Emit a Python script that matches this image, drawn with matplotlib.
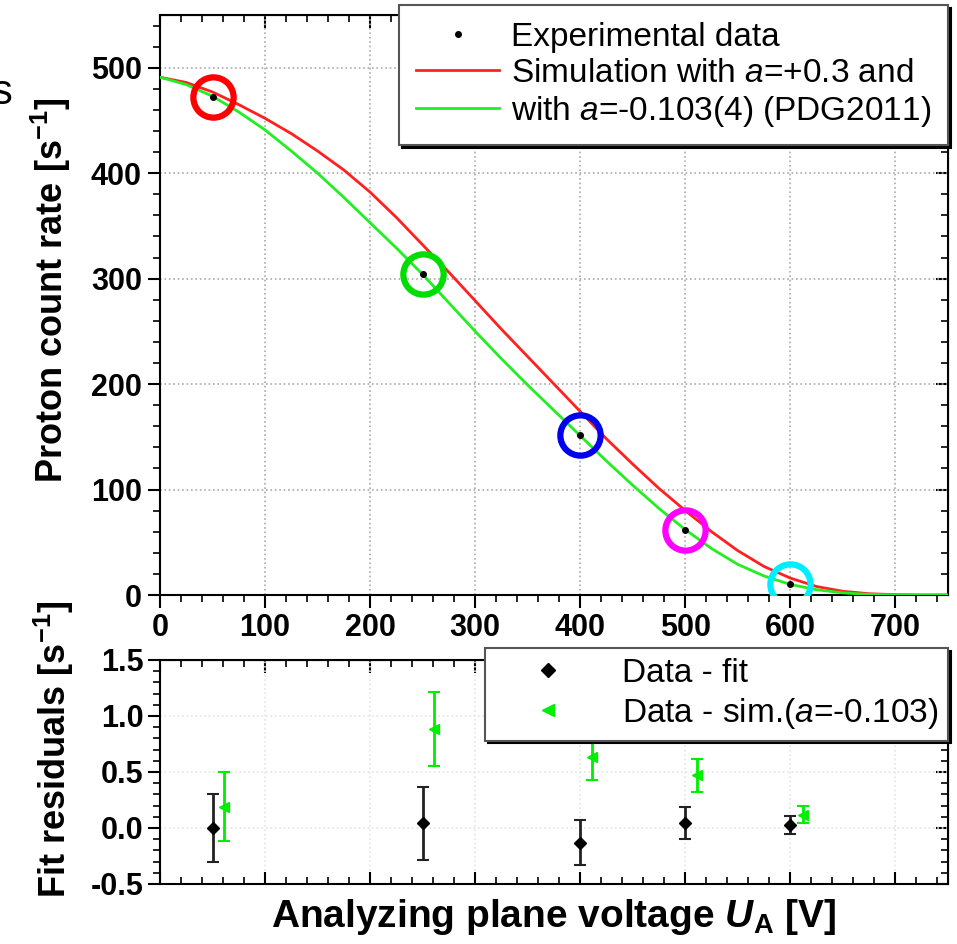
import numpy as np
import matplotlib
matplotlib.use('Agg')
import matplotlib.pyplot as plt
from matplotlib.ticker import MultipleLocator, NullFormatter
from matplotlib.lines import Line2D

plt.rcParams['font.family'] = ['Liberation Sans', 'DejaVu Sans']
plt.rcParams['mathtext.fontset'] = 'custom'
plt.rcParams['mathtext.rm'] = 'Liberation Sans'
plt.rcParams['mathtext.it'] = 'Liberation Sans:italic'
plt.rcParams['mathtext.bf'] = 'Liberation Sans:bold'
plt.rcParams['mathtext.bfit'] = 'Liberation Sans:italic:bold'

# experimental points (top panel)
u_data = [50, 250, 400, 500, 600]
rate_data = [472, 304, 152, 62, 10]
ring_colors = ['#ff0000', '#00dd00', '#0000ee', '#ff00ff', '#00eeff']

# simulation curves
u_sim = [0, 25, 50, 75, 100, 125, 150, 175, 200, 225, 250, 275, 300, 325, 350,
         375, 400, 425, 450, 475, 500, 525, 550, 575, 600, 625, 650, 675, 700, 725, 750]
rate_sim_pos = [491, 486, 477, 465, 452, 437.5, 421, 403, 382, 358, 332, 306, 279, 252, 226,
                200, 174, 148, 124, 101, 80, 60, 42, 27, 16, 8, 3.5, 1.2, 0.3, 0, 0]
rate_sim_neg = [491, 484, 473, 458, 441, 421, 400, 377, 353, 329, 304, 277, 250, 224, 199,
                175, 151, 127, 104, 82, 62, 44, 29, 18, 10, 5, 2, 0.6, 0.1, 0, 0]

# residuals (bottom panel)
u_res_fit = [50, 250, 400, 500, 600]
res_fit = [0.0, 0.04, -0.13, 0.045, 0.03]
err_fit = [0.30, 0.33, 0.205, 0.14, 0.08]
u_res_sim = [61, 261, 411, 511, 612]
res_sim = [0.19, 0.88, 0.63, 0.47, 0.12]
err_sim = [0.31, 0.33, 0.20, 0.15, 0.08]

fig = plt.figure(figsize=(9.57, 9.44), dpi=100)
ax1 = fig.add_axes([0.1672, 0.3697, 0.8234, 0.6144])
ax2 = fig.add_axes([0.1672, 0.0636, 0.8234, 0.2373])

# top panel
ax1.plot(u_sim, rate_sim_pos, color='#ff2020', lw=2, label='Simulation with $a$=+0.3 and', zorder=3)
ax1.plot(u_sim, rate_sim_neg, color='#22ee22', lw=2, label='with $a$=-0.103(4) (PDG2011)', zorder=3)
ax1.plot(u_data, rate_data, 'o', color='black', ms=4, ls='none', label='Experimental data', zorder=5)
for u, r, c in zip(u_data, rate_data, ring_colors):
    ax1.plot(u, r, 'o', ms=29, mfc='none', mec=c, mew=4.5, zorder=4)

ax1.set_xlim(0, 750)
ax1.set_ylim(0, 550)
ax1.xaxis.set_major_locator(MultipleLocator(100))
ax1.xaxis.set_minor_locator(MultipleLocator(20))
ax1.yaxis.set_major_locator(MultipleLocator(100))
ax1.yaxis.set_minor_locator(MultipleLocator(20))
ax1.grid(True, which='major', ls=':', color='#aaaaaa', lw=1.2)
ax1.tick_params(which='major', direction='out', length=9, width=1.5, labelsize=22, pad=4)
ax1.tick_params(which='minor', direction='out', length=5, width=1.2)
for lab in ax1.get_xticklabels() + ax1.get_yticklabels():
    lab.set_fontweight('bold')
ax1.set_ylabel('Proton count rate [s$^{\\mathbf{-1}}$]', fontsize=26, fontweight='bold')
ax1.yaxis.set_label_coords(-0.11, 0.525)
for sp in ax1.spines.values():
    sp.set_linewidth(1.5)

sec_r = ax1.secondary_yaxis('right')
sec_r.yaxis.set_major_locator(MultipleLocator(100))
sec_r.yaxis.set_minor_locator(MultipleLocator(20))
sec_r.tick_params(which='major', direction='in', length=9, width=1.5, labelright=False)
sec_r.tick_params(which='minor', direction='in', length=5, width=1.2)
sec_t = ax1.secondary_xaxis('top')
sec_t.xaxis.set_major_locator(MultipleLocator(100))
sec_t.xaxis.set_minor_locator(MultipleLocator(20))
sec_t.tick_params(which='major', direction='in', length=9, width=1.5, labeltop=False)
sec_t.tick_params(which='minor', direction='in', length=5, width=1.2)

h, l = ax1.get_legend_handles_labels()
leg1 = ax1.legend([h[2], h[0], h[1]], [l[2], l[0], l[1]], loc='upper right',
                  bbox_to_anchor=(1.0, 1.017), borderaxespad=0, fontsize=24,
                  frameon=True, fancybox=False, shadow={'color': 'black', 'alpha': 1},
                  edgecolor='#555555', handlelength=2.5, labelspacing=0.15,
                  borderpad=0.5, handletextpad=0.35)
leg1.get_frame().set_linewidth(1.5)
leg1.set_zorder(10)

# bottom panel
ax2.errorbar(u_res_fit, res_fit, yerr=err_fit, fmt='D', color='black', ecolor='#222222',
             ms=6, elinewidth=2, capsize=4, capthick=1.5, zorder=4)
ax2.errorbar(u_res_sim, res_sim, yerr=err_sim, fmt='<', color='#00ee00', ecolor='#00ee00',
             ms=7, elinewidth=2, capsize=4, capthick=1.5, zorder=4)
ax2.set_xlim(0, 750)
ax2.set_ylim(-0.5, 1.5)
ax2.xaxis.set_major_locator(MultipleLocator(100))
ax2.xaxis.set_minor_locator(MultipleLocator(20))
ax2.xaxis.set_major_formatter(NullFormatter())
ax2.yaxis.set_major_locator(MultipleLocator(0.5))
ax2.yaxis.set_minor_locator(MultipleLocator(0.1))
ax2.yaxis.set_major_formatter(plt.FuncFormatter(lambda v, p: f'{v:.1f}'))
ax2.grid(True, which='major', ls=':', color='#e4e4e4', lw=1.2)
ax2.tick_params(axis='y', which='major', direction='out', length=9, width=1.5, labelsize=22, pad=3)
ax2.tick_params(axis='y', which='minor', direction='out', length=5, width=1.2)
ax2.tick_params(axis='x', which='major', direction='in', length=9, width=1.5)
ax2.tick_params(axis='x', which='minor', direction='in', length=5, width=1.2)
for lab in ax2.get_yticklabels():
    lab.set_fontweight('bold')
for sp in ax2.spines.values():
    sp.set_linewidth(1.5)
ax2.set_ylabel('Fit residuals [s$^{\\mathbf{-1}}$]', fontsize=26, fontweight='bold')
ax2.yaxis.set_label_coords(-0.106, 0.6)
ax2.set_xlabel('Analyzing plane voltage $\\mathbfit{U}_{\\mathbf{A}}$ [V]', fontsize=28,
               fontweight='bold', labelpad=6)

sec_r2 = ax2.secondary_yaxis('right')
sec_r2.yaxis.set_major_locator(MultipleLocator(0.5))
sec_r2.yaxis.set_minor_locator(MultipleLocator(0.1))
sec_r2.tick_params(which='major', direction='in', length=9, width=1.5, labelright=False)
sec_r2.tick_params(which='minor', direction='in', length=5, width=1.2)
sec_t2 = ax2.secondary_xaxis('top')
sec_t2.xaxis.set_major_locator(MultipleLocator(100))
sec_t2.xaxis.set_minor_locator(MultipleLocator(20))
sec_t2.tick_params(which='major', direction='in', length=9, width=1.5, labeltop=False)
sec_t2.tick_params(which='minor', direction='in', length=5, width=1.2)

res_handles = [Line2D([], [], marker='D', color='black', ls='none', ms=7),
               Line2D([], [], marker='<', color='#00ee00', ls='none', ms=8)]
res_labels = ['Data - fit', 'Data - sim.($a$=-0.103)']
leg2 = ax2.legend(res_handles, res_labels, loc='upper right', bbox_to_anchor=(1.0, 1.054),
                  borderaxespad=0, fontsize=24, frameon=True, fancybox=False,
                  shadow={'color': 'black', 'alpha': 1}, edgecolor='#555555',
                  handlelength=3.2, labelspacing=0.2, borderpad=0.3, handletextpad=0.6)
leg2.get_frame().set_linewidth(1.5)
leg2.set_zorder(10)

# cropped letter at the left edge of the original
fig.text(-0.009, 0.902, 's', fontsize=30, ha='left', va='center')

fig.savefig('out.png', dpi=100)
